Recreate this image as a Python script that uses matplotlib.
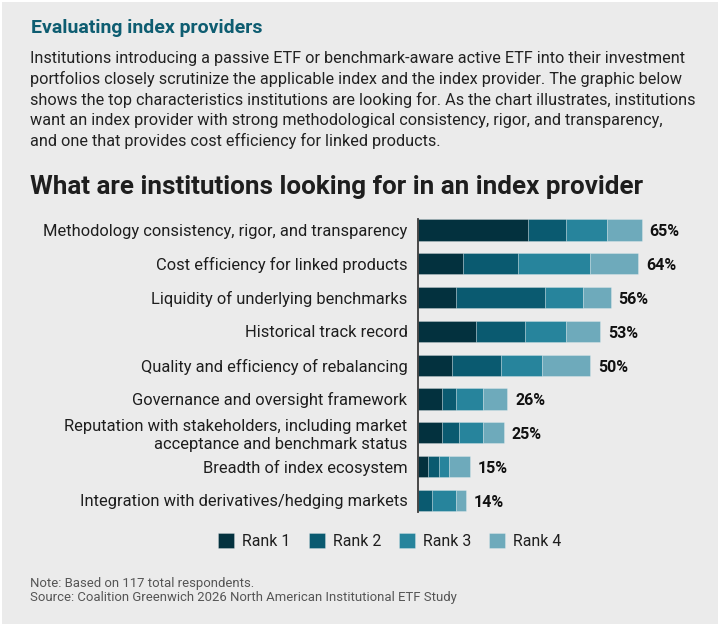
import matplotlib
matplotlib.use("Agg")
import matplotlib.pyplot as plt
from matplotlib.patches import Rectangle

# ---------------- data ----------------
categories = [
    "Methodology consistency, rigor, and transparency",
    "Cost efficiency for linked products",
    "Liquidity of underlying benchmarks",
    "Historical track record",
    "Quality and efficiency of rebalancing",
    "Governance and oversight framework",
    "Reputation with stakeholders, including market\nacceptance and benchmark status",
    "Breadth of index ecosystem",
    "Integration with derivatives/hedging markets",
]
rank1 = [32, 13, 11, 17, 10, 7, 7, 3, 0]
rank2 = [11, 16, 26, 14, 14, 4, 5, 3, 4]
rank3 = [12, 21, 11, 12, 12, 8, 7, 3, 7]
rank4 = [10, 14, 8, 10, 14, 7, 6, 6, 3]
totals = [65, 64, 56, 53, 50, 26, 25, 15, 14]
series_names = ["Rank 1", "Rank 2", "Rank 3", "Rank 4"]

title_small = "Evaluating index providers"
body_lines = [
    "Institutions introducing a passive ETF or benchmark-aware active ETF into their investment",
    "portfolios closely scrutinize the applicable index and the index provider. The graphic below",
    "shows the top characteristics institutions are looking for. As the chart illustrates, institutions",
    "want an index provider with strong methodological consistency, rigor, and transparency,",
    "and one that provides cost efficiency for linked products.",
]
chart_title = "What are institutions looking for in an index provider"
note_lines = [
    "Note: Based on 117 total respondents.",
    "Source: Coalition Greenwich 2026 North American Institutional ETF Study",
]

# ---------------- style ----------------
W, H = 720, 624
BG = "#ebebeb"
colors = ["#03313e", "#0a5a70", "#27849c", "#6eaabb"]
TEAL = "#0e5d71"
MAIN_FONT = ["Roboto", "DejaVu Sans"]

plt.rcParams["font.family"] = MAIN_FONT

fig = plt.figure(figsize=(W / 100, H / 100), dpi=100)
fig.patch.set_facecolor("white")
fig.patches.append(Rectangle((2 / W, 0), (W - 4) / W, (H - 2) / H,
                             transform=fig.transFigure, facecolor=BG,
                             edgecolor="none", zorder=-10))
renderer = fig.canvas.get_renderer()


def fx(x):
    return x / W


def fy(y):
    return 1 - y / H


def measure(s, **kw):
    t = fig.text(0, 0, s, fontsize=10, **kw)
    w = t.get_window_extent(renderer).width
    t.remove()
    return w


def fit_size(s, width_px, **kw):
    return 10 * width_px / measure(s, **kw)


# header texts
fs = fit_size(title_small, 232, weight="bold")
fig.text(fx(31), fy(28), title_small, fontsize=fs, weight="bold",
         color=TEAL, va="center", ha="left")

ref_widths = [663, 653, 663, 632]
meas = sum(measure(l) for l in body_lines[:4])
fs_body = 10 * sum(ref_widths) / meas
for i, line in enumerate(body_lines):
    fig.text(fx(30), fy(58.5 + 20.5 * i), line, fontsize=fs_body,
             color="#222222", va="center", ha="left")

fs_ct = fit_size(chart_title, 613, weight="bold")
fig.text(fx(30), fy(187.5), chart_title, fontsize=fs_ct, weight="bold",
         color="#1e1e1e", va="center", ha="left")

# ---------------- axes ----------------
row_h = 33.79
xmax = 82
px_per = 3.44
ax_left, ax_right = 418, 418 + xmax * px_per
ax_top, ax_bot = 230 - row_h / 2, 500.3 + row_h / 2
ax = fig.add_axes([fx(ax_left), fy(ax_bot), (ax_right - ax_left) / W,
                   (ax_bot - ax_top) / H])
ax.set_facecolor("none")

ypos = list(range(len(categories)))
left = [0] * len(categories)
handles = []
for vals, col, name in zip([rank1, rank2, rank3, rank4], colors, series_names):
    b = ax.barh(ypos, vals, left=left, height=0.63, color=col,
                edgecolor=(1, 1, 1, 0.35), linewidth=0.5, label=name, zorder=2)
    handles.append(b)
    left = [l + v for l, v in zip(left, vals)]

fs_val = fit_size("65%", 30, weight="bold")
for y, t in zip(ypos, totals):
    ax.annotate(f"{t}%", xy=(t, y), xytext=(8, -2), textcoords="offset pixels",
                ha="left", va="center", fontsize=fs_val, weight="bold",
                color="#111111")

ax.set_xlim(0, xmax)
ax.set_ylim(len(categories) - 0.5, -0.5)
ax.set_xticks([])
ax.set_yticks(ypos)
fs_lab = fit_size(categories[0], 364)
ax.set_yticklabels(categories, fontsize=fs_lab, color="#1e1e1e",
                   linespacing=1.25)
ax.tick_params(axis="y", length=0, pad=10.6 * 72 / 100)
for s in ["top", "right", "bottom"]:
    ax.spines[s].set_visible(False)
ax.spines["left"].set_color("#3a3a3a")
ax.spines["left"].set_linewidth(1.3)
ax.spines["left"].set_bounds(8.35, -0.33)
ax.spines["left"].set_zorder(3)

# ---------------- legend ----------------
fs_leg = fit_size("Rank 1", 48)
u = fs_leg * 100 / 72  # px per font-size unit
fig.legend(handles=handles, labels=series_names, loc="center left",
           bbox_to_anchor=(fx(218.3), fy(541)), ncol=4, frameon=False,
           fontsize=fs_leg, handlelength=16 / u, handleheight=16 / u,
           handletextpad=8 / u, columnspacing=18 / u, borderpad=0,
           borderaxespad=0, labelcolor="#1e1e1e")

# ---------------- notes ----------------
fs_note = fit_size(note_lines[1], 425)
for i, line in enumerate(note_lines):
    fig.text(fx(30), fy(583 + 14.5 * i), line, fontsize=fs_note,
             color="#555555", va="center", ha="left")

fig.savefig("out.png", dpi=100, facecolor=fig.get_facecolor())
